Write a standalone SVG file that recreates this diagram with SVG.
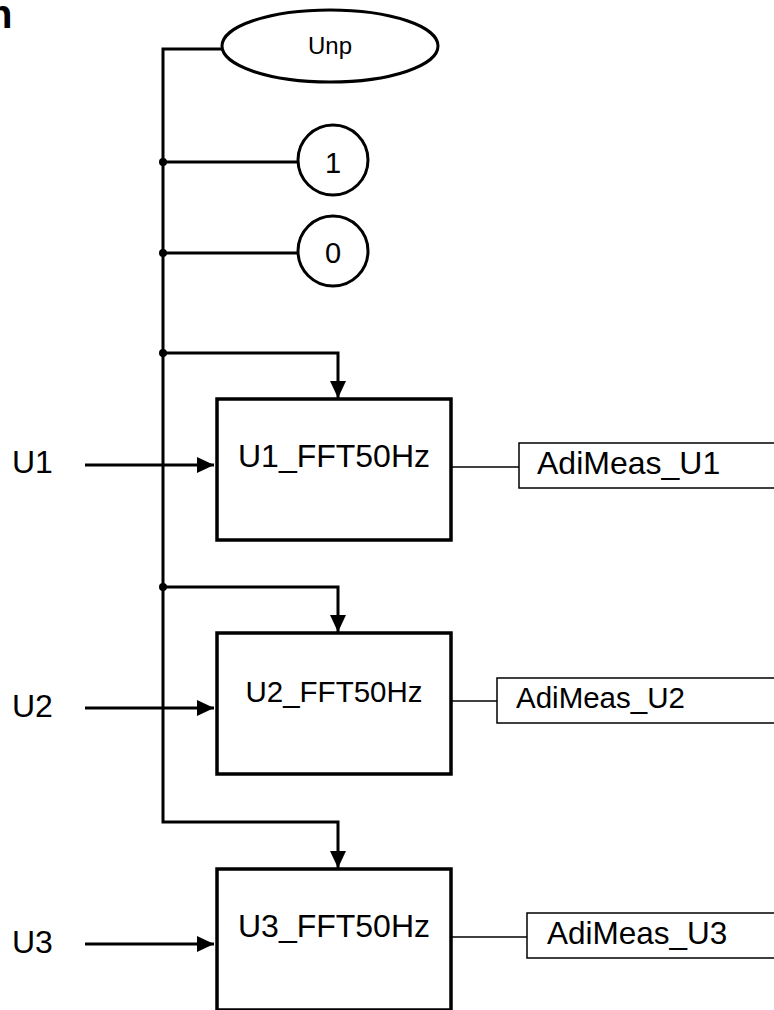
<svg xmlns="http://www.w3.org/2000/svg" width="774" height="1010" viewBox="0 0 774 1010">
<style>
text{font-family:"Liberation Sans",Arial,sans-serif;fill:#000}
.bus{fill:none;stroke:#000;stroke-width:3}
.thin{fill:none;stroke:#000;stroke-width:1.5}
.blk{fill:#fff;stroke:#000;stroke-width:3.5}
.out{fill:#fff;stroke:#000;stroke-width:1.5}
.shape{fill:#fff;stroke:#000;stroke-width:3}
</style>
<defs>
<marker id="ah" viewBox="0 0 17 16" refX="17" refY="8" markerWidth="17" markerHeight="16" markerUnits="userSpaceOnUse" orient="auto">
<path d="M0,0 L17,8 L0,16 Z" fill="#000"/>
</marker>
</defs>
<text x="-12" y="28" font-size="40" font-weight="bold">n</text>
<g id="connectors">
<polyline class="bus" points="222,49 163,49 163,822 338,822 338,868" marker-end="url(#ah)"/>
<line class="bus" x1="163" y1="162" x2="298" y2="162"/>
<line class="bus" x1="163" y1="253" x2="298" y2="253"/>
<polyline class="bus" points="163,353 338,353 338,398" marker-end="url(#ah)"/>
<polyline class="bus" points="163,587 338,587 338,632" marker-end="url(#ah)"/>
<circle cx="163" cy="162" r="4" fill="#000"/>
<circle cx="163" cy="253" r="4" fill="#000"/>
<circle cx="163" cy="353" r="4" fill="#000"/>
<circle cx="163" cy="587" r="4" fill="#000"/>
<line class="bus" x1="85" y1="465" x2="214" y2="465" marker-end="url(#ah)"/>
<line class="bus" x1="85" y1="708" x2="214" y2="708" marker-end="url(#ah)"/>
<line class="bus" x1="85" y1="944" x2="214" y2="944" marker-end="url(#ah)"/>
<line class="thin" x1="452" y1="467" x2="519" y2="467"/>
<line class="thin" x1="452" y1="701" x2="497" y2="701"/>
<line class="thin" x1="452" y1="937" x2="527" y2="937"/>
</g>
<g id="unp">
<ellipse class="shape" cx="330" cy="46" rx="108" ry="36"/>
<text x="330" y="54" font-size="24" text-anchor="middle">Unp</text>
</g>
<g id="const1">
<circle class="shape" cx="333" cy="160" r="35"/>
<text x="333" y="173" font-size="29" text-anchor="middle">1</text>
</g>
<g id="const0">
<circle class="shape" cx="333" cy="251" r="35"/>
<text x="333" y="263" font-size="29" text-anchor="middle">0</text>
</g>
<g id="lblU1"><text x="12" y="473" font-size="32">U1</text></g>
<g id="lblU2"><text x="12" y="717" font-size="32">U2</text></g>
<g id="lblU3"><text x="12" y="953" font-size="32">U3</text></g>
<g id="fft1">
<rect class="blk" x="217" y="399" width="234" height="141"/>
<text x="334" y="467" font-size="32" text-anchor="middle">U1_FFT50Hz</text>
</g>
<g id="fft2">
<rect class="blk" x="217" y="633" width="234" height="141"/>
<text x="334" y="702" font-size="29.5" text-anchor="middle">U2_FFT50Hz</text>
</g>
<g id="fft3">
<rect class="blk" x="217" y="869" width="234" height="141"/>
<text x="334" y="937" font-size="32" text-anchor="middle">U3_FFT50Hz</text>
</g>
<g id="adi1">
<rect class="out" x="519" y="443" width="270" height="45"/>
<text x="537" y="474" font-size="32">AdiMeas_U1</text>
</g>
<g id="adi2">
<rect class="out" x="497" y="678" width="290" height="45"/>
<text x="516" y="708" font-size="29.5">AdiMeas_U2</text>
</g>
<g id="adi3">
<rect class="out" x="527" y="913" width="260" height="45"/>
<text x="547" y="944" font-size="31.5">AdiMeas_U3</text>
</g>
</svg>
